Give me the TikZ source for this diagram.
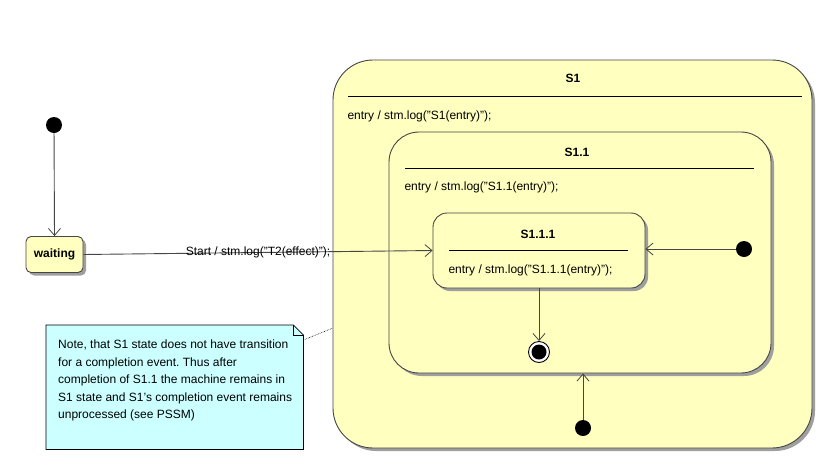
\documentclass[tikz,border=0pt]{standalone}
\usepackage{fontspec}
\setmainfont{Liberation Sans}
\usetikzlibrary{arrows.meta,shadows,calc}
\definecolor{stfill}{RGB}{255,255,192}
\definecolor{notefill}{RGB}{204,255,255}
\definecolor{edge}{RGB}{70,70,70}
\frenchspacing
\begin{document}
\begin{tikzpicture}[x=1pt,y=-1pt,
  every node/.style={font=\fontsize{12}{14}\selectfont},
  state/.style={draw=edge, line width=0.9pt, fill=stfill, inner sep=0pt,
    drop shadow={shadow xshift=3pt, shadow yshift=-3pt, fill=gray!75, opacity=1}},
  init/.style={circle, fill=black, inner sep=0pt, minimum size=16pt},
  trans/.style={draw=edge, line width=0.9pt, -{Straight Barb[length=7pt,width=12pt,line width=0.8pt]}},
  title/.style={font=\fontsize{12}{14}\selectfont\bfseries},
  divider/.style={draw=black, line width=0.9pt}]
\useasboundingbox (0,0) rectangle (832,464);

% composite state S1
\node[state, rounded corners=40pt, minimum width=479pt, minimum height=388pt] (s1) at (572.5,254) {};
\node[title] (s1t) at (573,78) {S1};
\draw[divider] (348,96) -- (802,96);
\node[anchor=west] (s1e) at (344,116) {entry / stm.log("S1(entry)");};

% composite state S1.1
\node[state, rounded corners=30pt, minimum width=382pt, minimum height=241pt] (s11) at (580,252.5) {};
\node[title] (s11t) at (577,152) {S1.1};
\draw[divider] (405,168) -- (754,168);
\node[anchor=west] (s11e) at (401,187) {entry / stm.log("S1.1(entry)");};

% simple state S1.1.1
\node[state, rounded corners=14pt, minimum width=212pt, minimum height=75pt] (s111) at (539,250.5) {};
\node[title] (s111t) at (538,234) {S1.1.1};
\draw[divider] (449,250) -- (628,250);
\node[anchor=west] (s111e) at (445,270) {entry / stm.log("S1.1.1(entry)");};

% simple state waiting
\node[state, rounded corners=5pt, minimum width=57pt, minimum height=36pt, title] (wait) at (54.5,254.5) {waiting};

% pseudo states
\node[init] (i0) at (54,125) {};
\node[init] (i1) at (744,249) {};
\node[init] (i2) at (583,428) {};
\node[circle, draw=black, line width=0.9pt, fill=white, inner sep=0pt, minimum size=21pt] (fin) at (539,352) {};
\fill (fin.center) circle (7.5pt);

% transitions
\draw[trans] (i0) -- (wait.north);
\draw[trans] (wait.east) -- node[pos=0.5, inner sep=0pt] (lbl) {Start / stm.log("T2(effect)");} (s111.west);
\draw[trans] (i1) -- (s111.east |- i1);
\draw[trans] (s111.south) -- (fin);
\draw[trans] (i2) -- (s11.south -| i2);

% comment note
\node[anchor=north west, inner sep=0pt, minimum width=257pt, minimum height=124pt] (note) at (46,325) {};
\fill[notefill] (note.north west) -- ($(note.north east)+(-10,0)$) -- ($(note.north east)+(0,10)$) -- (note.south east) -- (note.south west) -- cycle;
\draw[black, line width=0.8pt] (note.north west) -- ($(note.north east)+(-10,0)$) -- ($(note.north east)+(0,10)$) -- (note.south east) -- (note.south west) -- cycle;
\draw[black, line width=0.6pt] ($(note.north east)+(-10,0)$) -- ($(note.north east)+(-10,10)$) -- ($(note.north east)+(0,10)$);
\node[anchor=north west, align=left, inner sep=0pt, font=\fontsize{12}{17.5}\selectfont] (notetxt) at (58,340)
  {Note, that S1 state does not have transition\\
   for a completion event. Thus after\\
   completion of S1.1 the machine remains in\\
   S1 state and S1's completion event remains\\
   unprocessed (see PSSM)};
\coordinate (nc) at ($(note.north east)+(0,15)$);
\coordinate (sc) at (333,328);
\draw[densely dotted, line width=0.6pt] (nc) -- (sc);
\end{tikzpicture}
\end{document}
